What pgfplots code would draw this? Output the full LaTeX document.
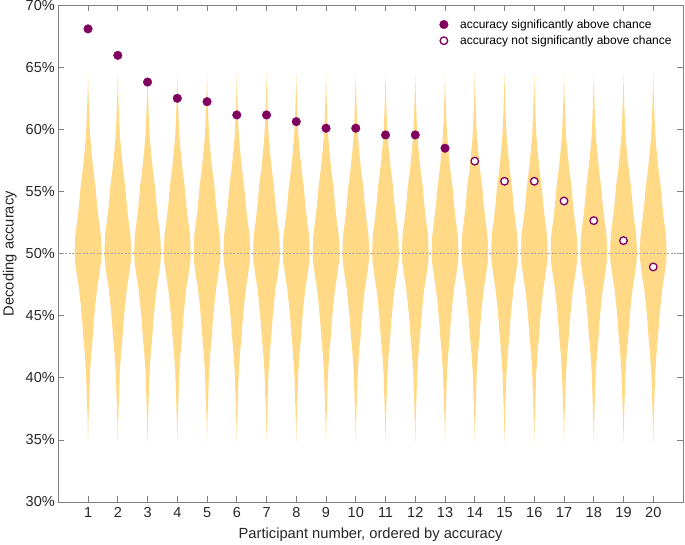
\documentclass[border=0pt]{standalone}
\usepackage{fontspec}
\setmainfont{Liberation Sans}
\usepackage{pgfplots}
\pgfplotsset{compat=1.18}
\usepackage{pgfplotstable}
\definecolor{violin}{RGB}{255,217,133}
\definecolor{acc}{RGB}{128,0,96}
\definecolor{ticktext}{RGB}{38,38,38}
\definecolor{axgray}{RGB}{128,128,128}

% violin profile: accuracy (v) and half-width (w, in x units)
\pgfplotstableread{
v w
34.8 0
36.5 0.015
38.0 0.034
40.4 0.067
42.0 0.110
43.3 0.160
44.7 0.200
46.0 0.250
47.3 0.310
48.0 0.360
48.7 0.400
49.4 0.440
50.0 0.450
50.7 0.440
51.4 0.430
52.0 0.400
52.7 0.360
54.0 0.300
55.4 0.250
56.7 0.180
58.1 0.120
59.5 0.070
60.8 0.045
62.5 0.020
64.5 0
62.5 -0.020
60.8 -0.045
59.5 -0.070
58.1 -0.120
56.7 -0.180
55.4 -0.250
54.0 -0.300
52.7 -0.360
52.0 -0.400
51.4 -0.430
50.7 -0.440
50.0 -0.450
49.4 -0.440
48.7 -0.400
48.0 -0.360
47.3 -0.310
46.0 -0.250
44.7 -0.200
43.3 -0.160
42.0 -0.110
40.4 -0.067
38.0 -0.034
36.5 -0.015
34.8 0
}\profile

\pgfplotstableread{
x y
1 68.10
2 65.97
3 63.82
4 62.51
5 62.24
6 61.17
7 61.17
8 60.63
9 60.10
10 60.10
11 59.56
12 59.56
13 58.49
}\sig

\pgfplotstableread{
x y
14 57.45
15 55.83
16 55.83
17 54.24
18 52.66
19 51.05
20 48.93
}\nsig

\begin{document}
\begin{tikzpicture}
\begin{axis}[
  width=624.7pt, height=496.7pt, scale only axis,
  xmin=0, xmax=21, ymin=30, ymax=70,
  xtick={1,...,20}, ytick={30,35,...,70},
  yticklabels={30\%,35\%,40\%,45\%,50\%,55\%,60\%,65\%,70\%},
  /pgf/number format/assume math mode=true,
  axis line style={axgray, line width=0.8pt},
  major tick style={axgray, line width=0.8pt},
  tick align=inside, major tick length=6pt,
  tick label style={font=\fontsize{14.5}{15}\selectfont, text=ticktext},
  xticklabel style={yshift=-2pt},
  xlabel={Participant number, ordered by accuracy},
  ylabel={Decoding accuracy},
  every axis x label/.style={at={(axis description cs:0.5,-0.0665)}, anchor=center,
    font=\fontsize{14.7}{15}\selectfont, text=ticktext},
  every axis y label/.style={at={(axis description cs:-0.0775,0.5)}, anchor=center, rotate=90,
    font=\fontsize{14.7}{15}\selectfont, text=ticktext},
  legend style={draw=none, fill=white, font=\fontsize{12}{13}\selectfont,
    at={(0.99,0.98)}, anchor=north east, row sep=2pt},
  legend cell align=left,
  legend image code/.code={\draw[#1] plot coordinates {(0pt,0pt)}; \path (-5pt,0pt) (14pt,0pt);},
]
\pgfplotsinvokeforeach{1,...,20}{
  \addplot[forget plot, fill=violin, draw=none]
    table[x expr={#1+\thisrow{w}}, y=v] {\profile} -- cycle;
}
\addplot[forget plot, color=black!35, line width=0.9pt, dash pattern=on 2pt off 1.5pt]
  coordinates {(0,50) (21,50)};
\addplot[only marks, mark=*, mark size=4.3pt, mark options={fill=acc, draw=acc}]
  table[x=x, y=y] {\sig};
\addlegendentry{accuracy significantly above chance}
\addplot[only marks, mark=*, mark size=3.8pt, mark options={fill=white, draw=acc, line width=1.3pt}]
  table[x=x, y=y] {\nsig};
\addlegendentry{accuracy not significantly above chance}
\end{axis}
\pgfresetboundingbox
\path ([xshift=-58.3pt,yshift=-42pt]current axis.south west) rectangle ([xshift=2pt,yshift=5.3pt]current axis.north east);
\end{tikzpicture}
\end{document}
